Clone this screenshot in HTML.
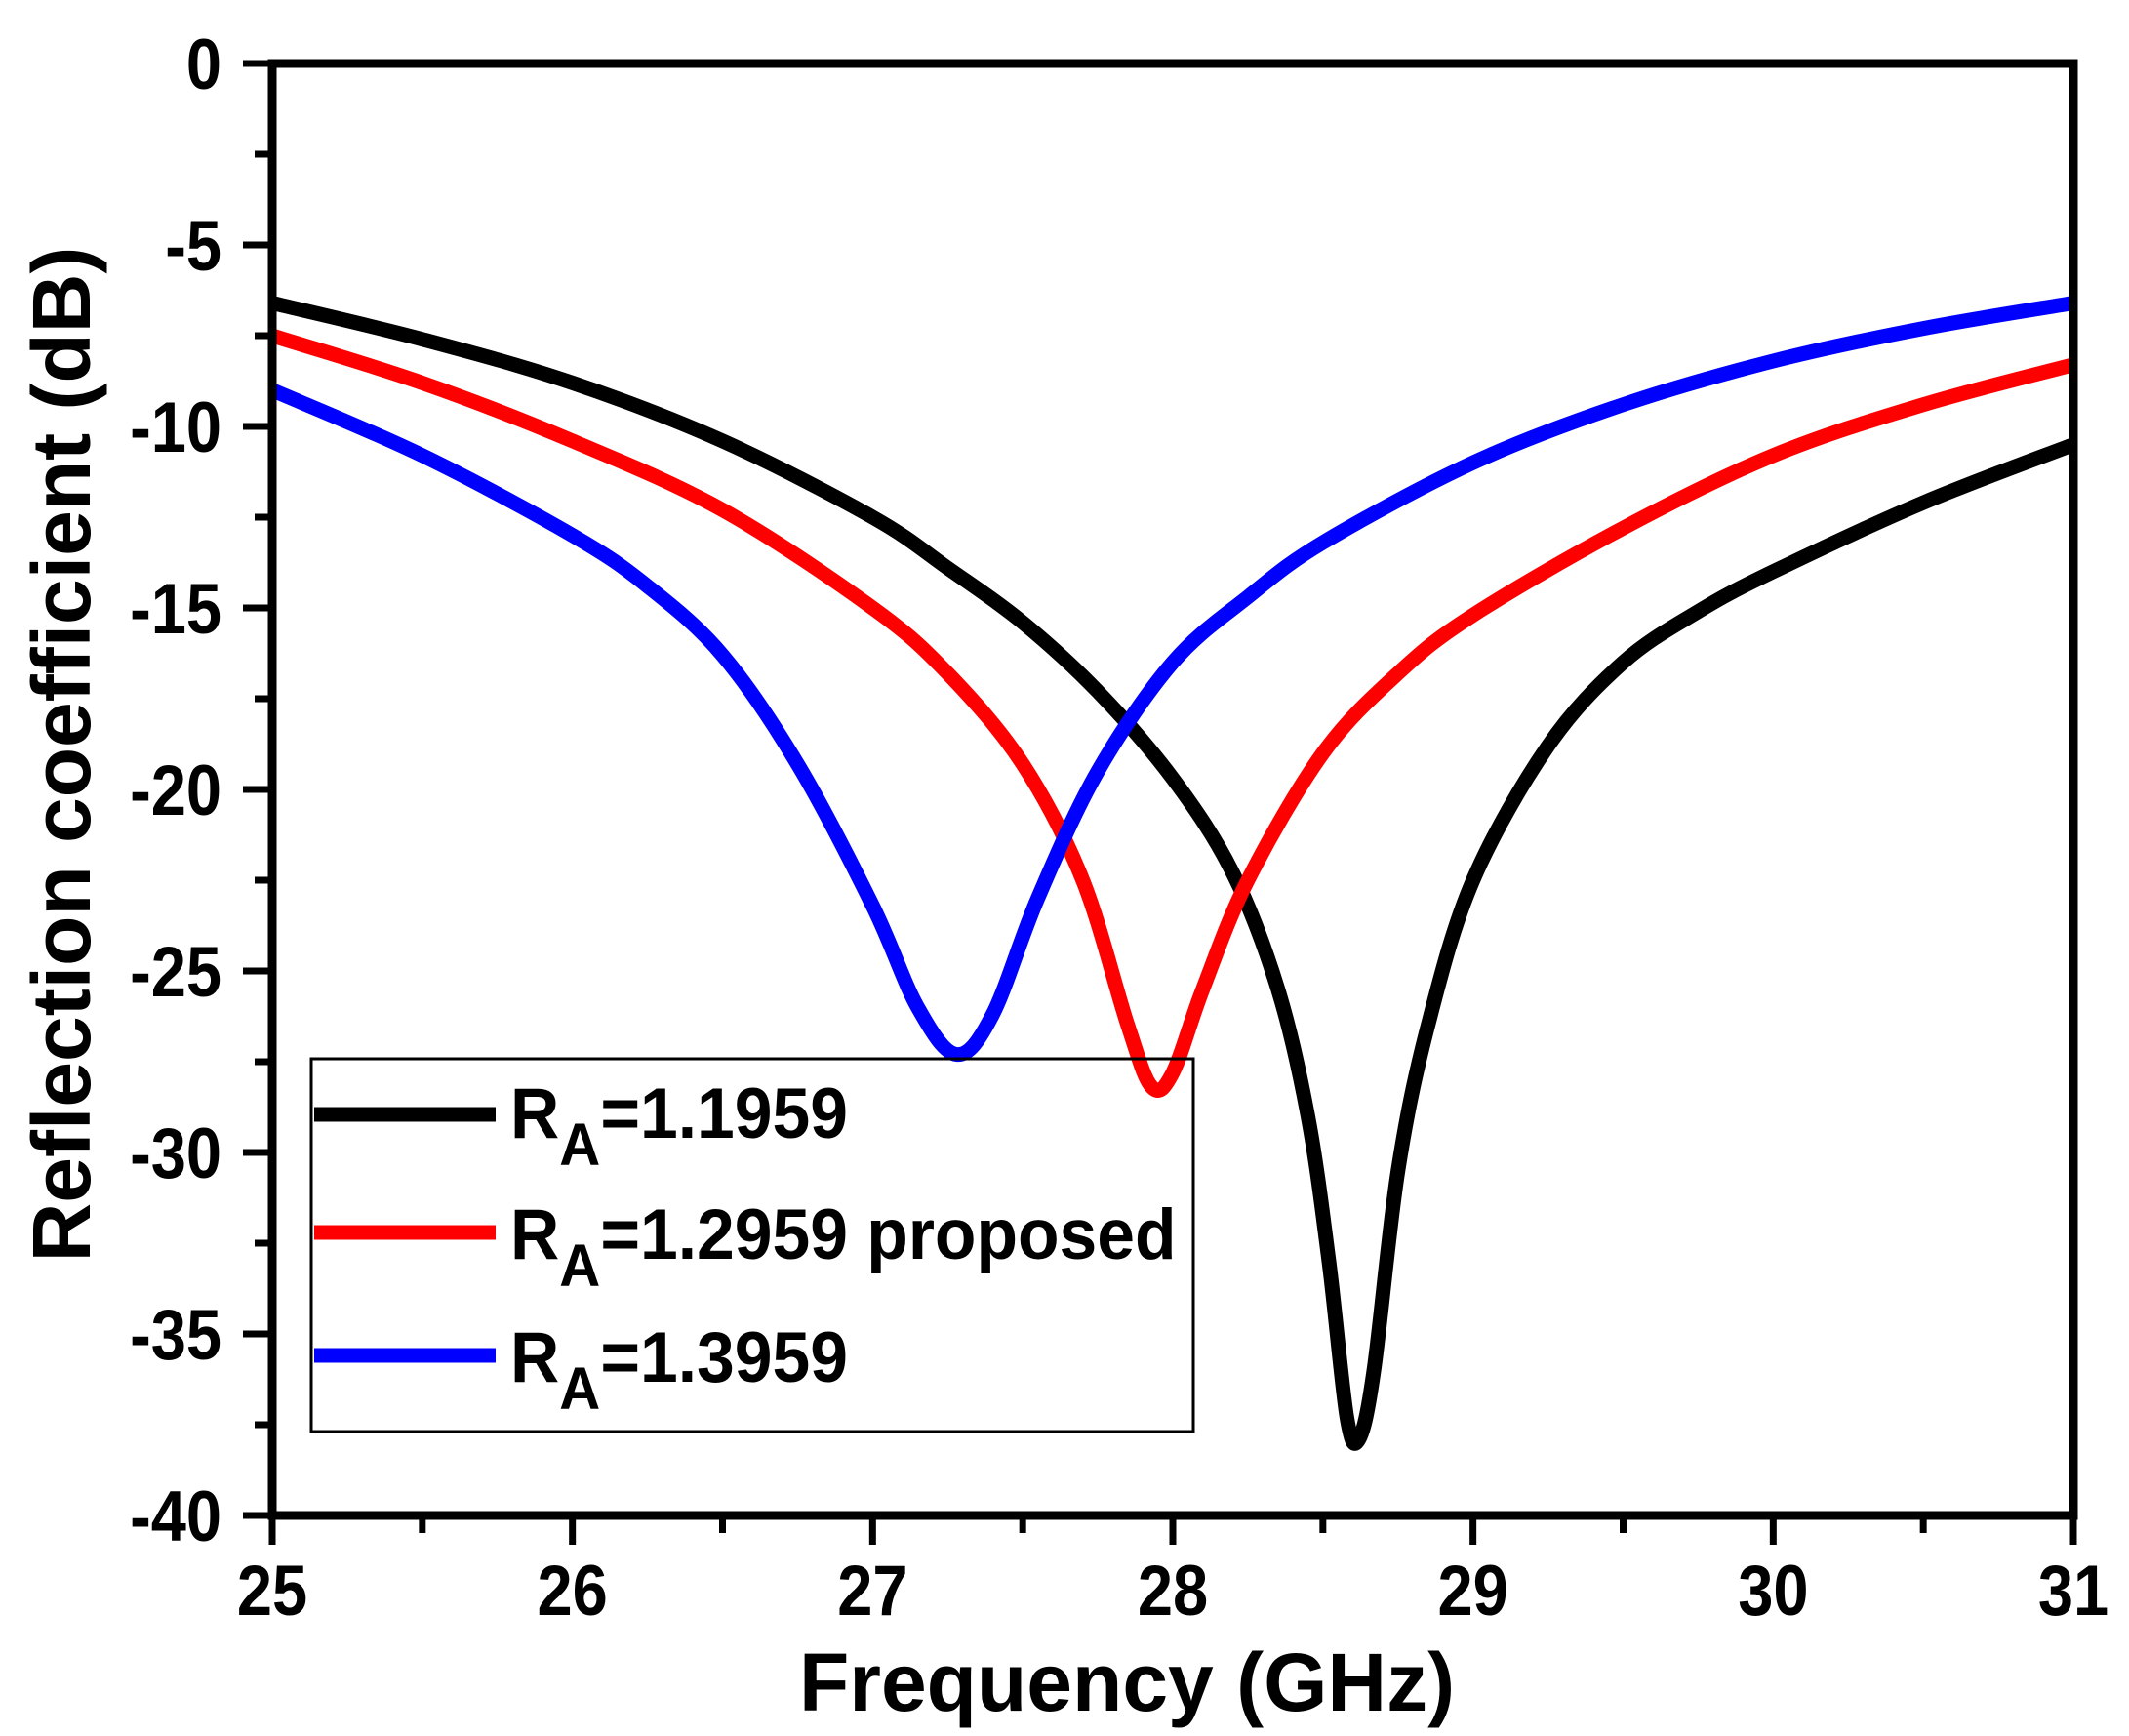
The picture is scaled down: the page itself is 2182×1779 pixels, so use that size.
<!DOCTYPE html>
<html><head><meta charset="utf-8"><style>
body{margin:0;background:#fff}
svg{display:block}
text{font-family:"Liberation Sans",Arial,sans-serif;font-weight:bold;fill:#000}
</style></head><body>
<svg id="chart" width="2182" height="1779" viewBox="0 0 2182 1779" xmlns="http://www.w3.org/2000/svg">
<g id="plot"></g>
<g id="axes"></g>
<text x="0" y="0" font-size="84" text-anchor="middle" transform="translate(92,773) rotate(-90)">Reflection coefficient (dB)</text>
<text x="1155" y="1753" font-size="84" text-anchor="middle">Frequency (GHz)</text>
<g>
<rect x="319" y="1085" width="904" height="382" fill="none" stroke="#000" stroke-width="3"/>
<line x1="322" y1="1142" x2="508" y2="1142" stroke="#000" stroke-width="15"/>
<text font-size="73" transform="translate(523,1166) scale(0.954,1)">R<tspan dy="28" font-size="61">A</tspan><tspan dy="-28">=1.1959</tspan></text>
<line x1="322" y1="1263" x2="508" y2="1263" stroke="#f00" stroke-width="15"/>
<text font-size="73" transform="translate(523,1290) scale(0.954,1)">R<tspan dy="28" font-size="61">A</tspan><tspan dy="-28">=1.2959 proposed</tspan></text>
<line x1="322" y1="1389" x2="508" y2="1389" stroke="#00f" stroke-width="15"/>
<text font-size="73" transform="translate(523,1416) scale(0.954,1)">R<tspan dy="28" font-size="61">A</tspan><tspan dy="-28">=1.3959</tspan></text>
</g>
</svg>
<script>
const xTicks=[25,26,27,28,29,30,31];
const yTicks=[0,-5,-10,-15,-20,-25,-30,-35,-40];
const blackX=[25,25.5,26,26.5,27,27.25,27.5,27.75,28,28.2,28.35,28.45,28.52,28.58,28.62,28.67,28.75,28.85,29,29.25,29.5,29.75,30,30.5,31];
const blackY=[-6.6,-7.6,-8.8,-10.4,-12.5,-13.9,-15.4,-17.3,-19.7,-22.3,-25.5,-29,-33,-37.3,-37.9,-36,-30.5,-26.5,-22.5,-18.8,-16.5,-15.1,-14,-12.1,-10.5];
const redX=[25,25.5,26,26.5,27,27.25,27.5,27.7,27.85,27.93,28,28.1,28.25,28.5,28.75,29,29.5,30,30.5,31];
const redY=[-7.5,-8.8,-10.4,-12.3,-15,-16.8,-19.3,-22.5,-26.5,-28.2,-27.8,-25.5,-22.5,-19,-16.8,-15.2,-12.8,-10.8,-9.4,-8.3];
const blueX=[25,25.5,26,26.25,26.5,26.75,27,27.15,27.28,27.4,27.55,27.75,28,28.25,28.5,29,29.5,30,30.5,31];
const blueY=[-9,-10.8,-13,-14.4,-16.3,-19.3,-23.2,-26,-27.3,-26.2,-23,-19.5,-16.5,-14.7,-13.2,-11,-9.4,-8.2,-7.3,-6.6];

const L=279,R=2125,T=65,B=1553;
const sx=v=>L+(v-25)/6*(R-L);
const sy=v=>T+(0-v)/40*(B-T);
const NS="http://www.w3.org/2000/svg";
function mk(tag,attrs,parent){const e=document.createElementNS(NS,tag);for(const k in attrs)e.setAttribute(k,attrs[k]);parent.appendChild(e);return e;}
const plot=document.getElementById('plot'),axes=document.getElementById('axes');
function pathFor(xs,ys){
  const p=xs.map((x,i)=>[sx(x),sy(ys[i])]);
  let d="M"+p[0][0].toFixed(1)+","+p[0][1].toFixed(1);
  for(let i=0;i<p.length-1;i++){
    const p0=p[i-1]||p[i],p1=p[i],p2=p[i+1],p3=p[i+2]||p[i+1];
    const c1=[p1[0]+(p2[0]-p0[0])/6,p1[1]+(p2[1]-p0[1])/6];
    const c2=[p2[0]-(p3[0]-p1[0])/6,p2[1]-(p3[1]-p1[1])/6];
    d+=" C"+c1.map(v=>v.toFixed(1))+" "+c2.map(v=>v.toFixed(1))+" "+p2.map(v=>v.toFixed(1));
  }
  return d;
}
const series=[[blackX,blackY,'#000','series-r1-1959'],[redX,redY,'#f00','series-r1-2959'],[blueX,blueY,'#00f','series-r1-3959']];
series.forEach(s=>{
  const el=mk('path',{d:pathFor(s[0],s[1]),fill:'none',stroke:s[2],'stroke-width':15,'stroke-linejoin':'round'},plot);
  
  
});
const fr=mk('rect',{x:L,y:T,width:R-L,height:B-T,fill:'none',stroke:'#000','stroke-width':9},axes);


for(let v=25;v<=31.001;v+=0.5){
  const major=Math.abs(v-Math.round(v))<1e-6;
  const t=mk('line',{x1:sx(v),x2:sx(v),y1:B,y2:B+(major?30:18),stroke:'#000','stroke-width':7},axes);
  
  
}
xTicks.forEach(v=>{
  const t=mk('text',{'font-size':73,'text-anchor':'middle',transform:'translate('+sx(v)+',1655) scale(0.89,1)'},axes);
  t.textContent=v;
  
  
});
for(let v=0;v>=-40.001;v-=2.5){
  const major=Math.abs(v/5-Math.round(v/5))<1e-6;
  const t=mk('line',{x1:L,x2:L-(major?30:18),y1:sy(v),y2:sy(v),stroke:'#000','stroke-width':7},axes);
  
  
}
yTicks.forEach(v=>{
  const t=mk('text',{'font-size':73,'text-anchor':'end',transform:'translate(227,'+(sy(v)+26)+') scale(0.89,1)'},axes);
  t.textContent=v;
  
  
});
</script>
</body></html>
